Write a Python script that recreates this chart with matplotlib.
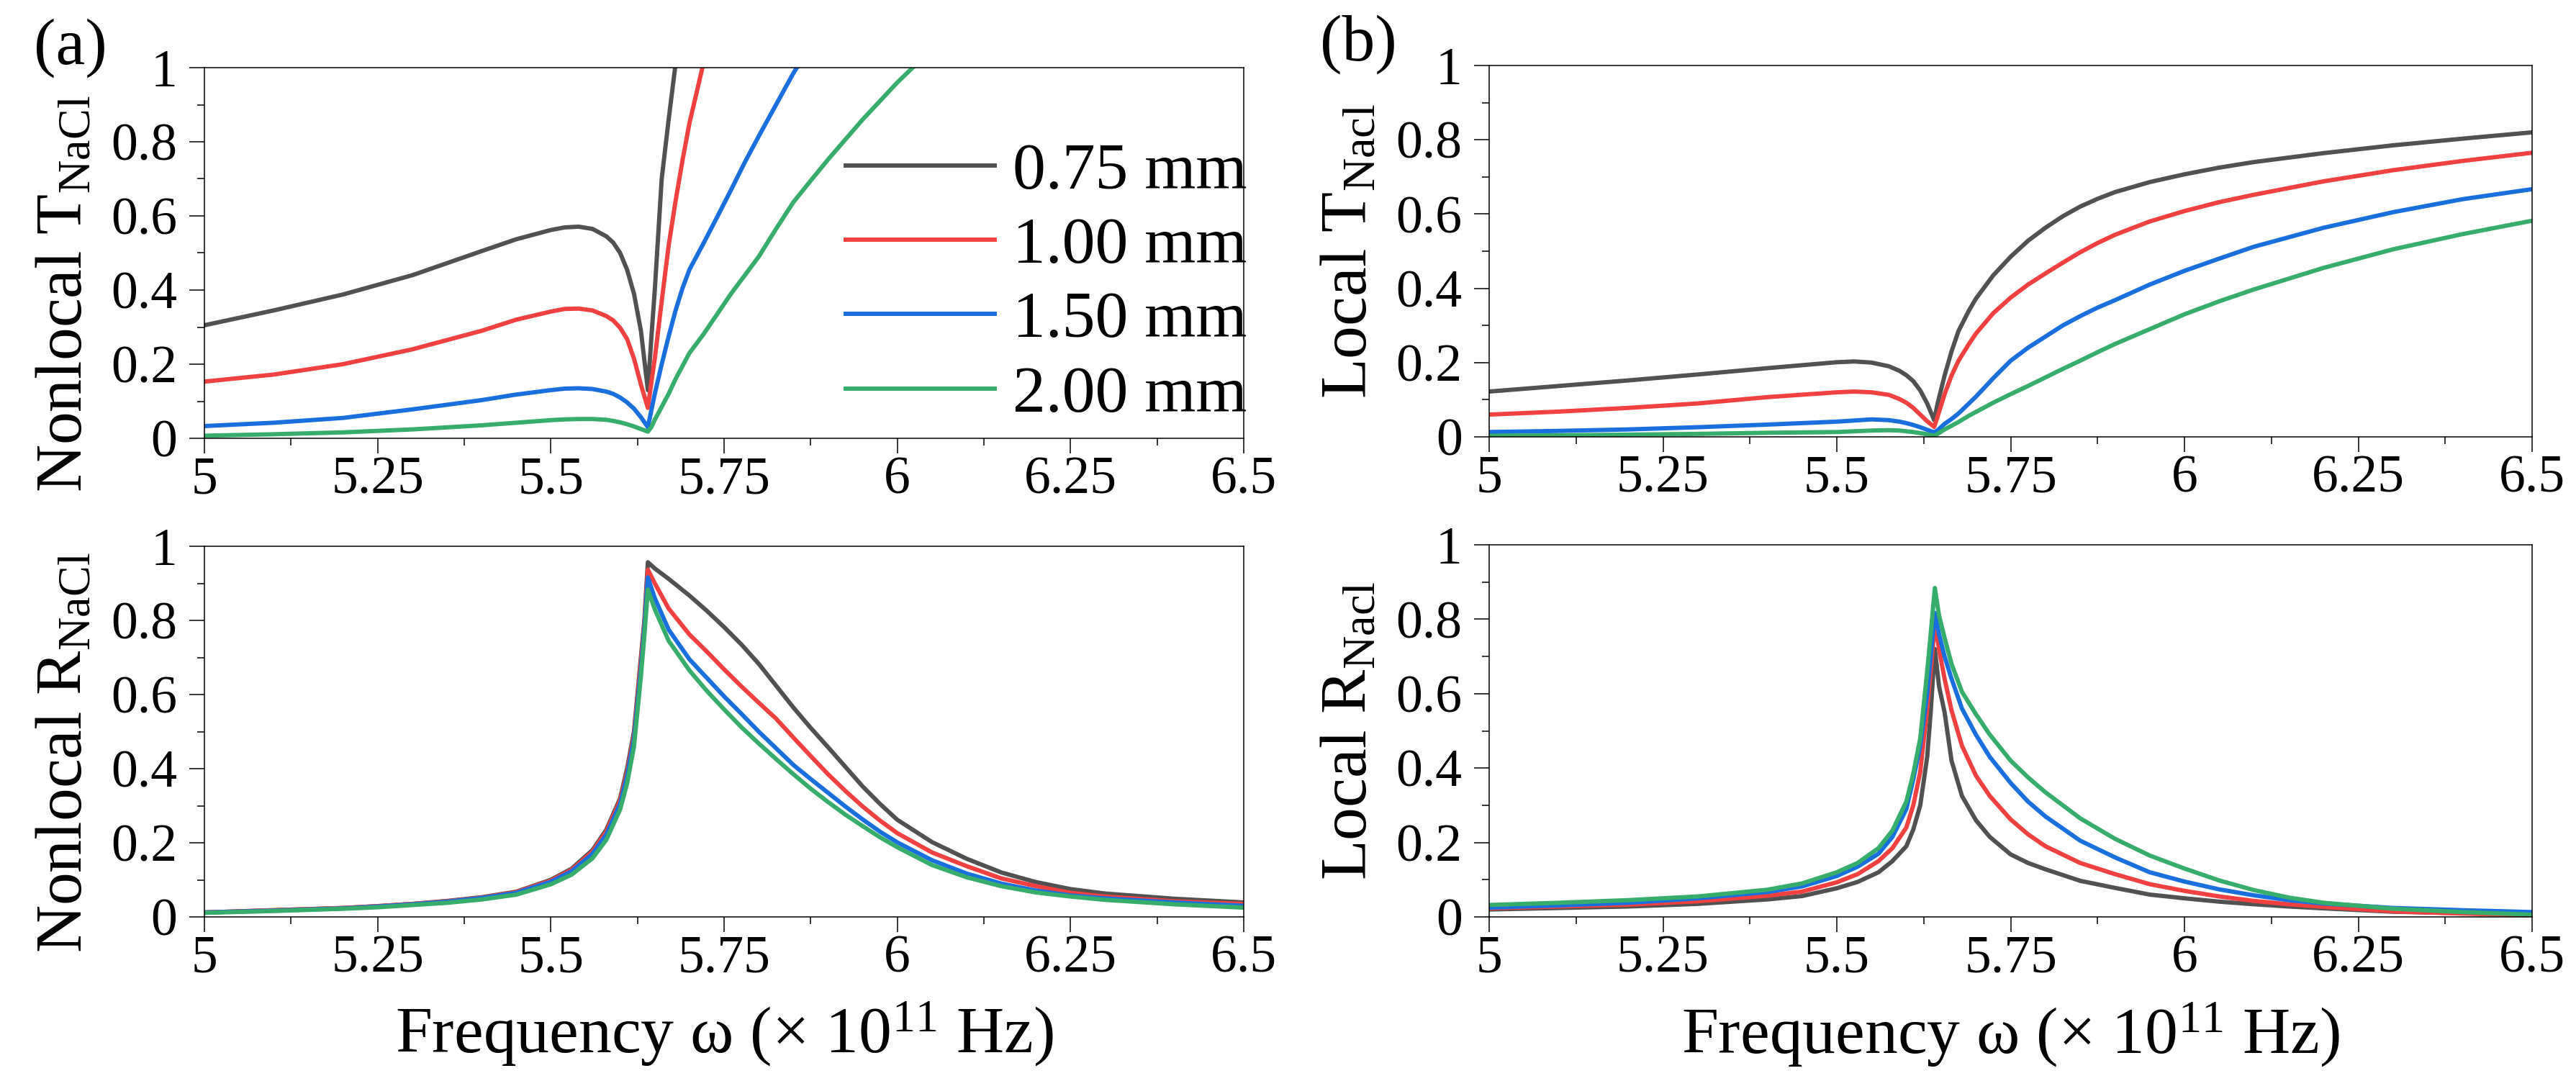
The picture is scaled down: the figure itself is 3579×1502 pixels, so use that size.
import matplotlib
matplotlib.use("Agg")
import matplotlib.pyplot as plt
from matplotlib.ticker import MultipleLocator, FuncFormatter

plt.rcParams['font.family'] = ['Liberation Serif', 'DejaVu Serif']
plt.rcParams['mathtext.fontset'] = 'custom'
plt.rcParams['mathtext.rm'] = 'Liberation Serif'
plt.rcParams['mathtext.it'] = 'Liberation Serif:italic'

# thickness labels and colours (Origin style)
labels = ['0.75 mm', '1.00 mm', '1.50 mm', '2.00 mm']
colors = ['#515151', '#F14040', '#1A6FDF', '#37AD6B']

# ---- (a) top: nonlocal transmission ----
x_nt = [5.0, 5.1, 5.2, 5.3, 5.4, 5.45, 5.5, 5.52, 5.54, 5.56, 5.58, 5.59,
        5.6, 5.61, 5.62, 5.63, 5.64, 5.645, 5.65, 5.66, 5.67, 5.68, 5.69,
        5.70, 5.72, 5.74, 5.76, 5.78, 5.8, 5.825, 5.85, 5.875, 5.9, 5.95,
        6.0, 6.05]
nt_075 = [0.305, 0.345, 0.388, 0.44, 0.505, 0.537, 0.562, 0.569, 0.571, 0.565,
          0.545, 0.528, 0.5, 0.455, 0.39, 0.29, 0.13, 0.27, 0.4, 0.7, 0.86,
          1.01, 1.15, 1.3, 1.5, 1.7, 1.85, 2.0, 2.1, 2.2, 2.3, 2.4, 2.5, 2.6,
          2.7, 2.8]
nt_100 = [0.153, 0.172, 0.2, 0.24, 0.29, 0.32, 0.342, 0.349, 0.35, 0.345,
          0.33, 0.318, 0.298, 0.268, 0.215, 0.145, 0.082, 0.15, 0.215, 0.37,
          0.52, 0.64, 0.75, 0.85, 1.01, 1.15, 1.3, 1.4, 1.5, 1.6, 1.7, 1.8,
          1.9, 2.0, 2.1, 2.2]
nt_150 = [0.033, 0.042, 0.055, 0.078, 0.103, 0.118, 0.13, 0.134, 0.135, 0.133,
          0.126, 0.12, 0.11, 0.097, 0.08, 0.057, 0.03, 0.075, 0.12, 0.2, 0.275,
          0.345, 0.405, 0.455, 0.525, 0.597, 0.67, 0.745, 0.815, 0.9, 0.985,
          1.06, 1.14, 1.28, 1.4, 1.5]
nt_200 = [0.007, 0.011, 0.016, 0.024, 0.035, 0.042, 0.049, 0.051, 0.052, 0.052,
          0.05, 0.047, 0.043, 0.038, 0.032, 0.025, 0.018, 0.03, 0.05, 0.085,
          0.12, 0.16, 0.195, 0.23, 0.28, 0.335, 0.39, 0.44, 0.49, 0.565, 0.637,
          0.695, 0.752, 0.86, 0.96, 1.05]

# ---- (a) bottom: nonlocal reflection ----
x_nr = [5.0, 5.1, 5.2, 5.25, 5.3, 5.35, 5.4, 5.45, 5.5, 5.53, 5.56, 5.58,
        5.6, 5.61, 5.62, 5.63, 5.635, 5.64, 5.65, 5.67, 5.7, 5.725, 5.75,
        5.775, 5.8, 5.825, 5.85, 5.875, 5.9, 5.925, 5.95, 5.975, 6.0, 6.05,
        6.1, 6.15, 6.2, 6.25, 6.3, 6.4, 6.5]
nr_075 = [0.012, 0.018, 0.024, 0.029, 0.035, 0.043, 0.053, 0.068, 0.1, 0.13,
          0.18, 0.235, 0.32, 0.4, 0.5, 0.7, 0.8, 0.957, 0.94, 0.912, 0.867,
          0.826, 0.782, 0.735, 0.683, 0.624, 0.565, 0.51, 0.458, 0.405, 0.352,
          0.305, 0.262, 0.202, 0.157, 0.12, 0.094, 0.075, 0.063, 0.049, 0.039]
nr_100 = [0.012, 0.018, 0.024, 0.029, 0.035, 0.042, 0.052, 0.067, 0.098,
          0.127, 0.176, 0.23, 0.315, 0.39, 0.49, 0.69, 0.79, 0.937, 0.9,
          0.832, 0.762, 0.716, 0.668, 0.622, 0.578, 0.535, 0.484, 0.434,
          0.385, 0.34, 0.298, 0.26, 0.226, 0.174, 0.137, 0.104, 0.083, 0.065,
          0.055, 0.042, 0.035]
nr_150 = [0.012, 0.017, 0.023, 0.028, 0.034, 0.041, 0.051, 0.065, 0.095,
          0.123, 0.17, 0.222, 0.305, 0.38, 0.48, 0.67, 0.78, 0.916, 0.86,
          0.775, 0.695, 0.645, 0.595, 0.548, 0.5, 0.455, 0.41, 0.372, 0.335,
          0.298, 0.263, 0.23, 0.201, 0.153, 0.117, 0.09, 0.071, 0.058, 0.05,
          0.039, 0.03]
nr_200 = [0.011, 0.016, 0.022, 0.026, 0.032, 0.038, 0.047, 0.06, 0.088,
          0.114, 0.158, 0.208, 0.29, 0.36, 0.46, 0.65, 0.76, 0.883, 0.83,
          0.745, 0.665, 0.61, 0.56, 0.512, 0.468, 0.426, 0.385, 0.346, 0.31,
          0.276, 0.245, 0.215, 0.188, 0.14, 0.107, 0.083, 0.066, 0.055, 0.046,
          0.034, 0.025]

# ---- (b) top: local transmission ----
x_lt = [5.0, 5.1, 5.2, 5.3, 5.4, 5.5, 5.525, 5.55, 5.575, 5.59, 5.6, 5.61,
        5.62, 5.63, 5.64, 5.645, 5.655, 5.665, 5.675, 5.69, 5.7, 5.725, 5.75,
        5.775, 5.8, 5.825, 5.85, 5.875, 5.9, 5.95, 6.0, 6.05, 6.1, 6.2, 6.3,
        6.4, 6.5]
lt_075 = [0.122, 0.137, 0.152, 0.168, 0.185, 0.201, 0.203, 0.2, 0.19, 0.178,
          0.166, 0.15, 0.125, 0.09, 0.045, 0.09, 0.165, 0.23, 0.285, 0.34,
          0.372, 0.435, 0.485, 0.528, 0.563, 0.594, 0.62, 0.641, 0.659,
          0.686, 0.707, 0.725, 0.74, 0.764, 0.785, 0.803, 0.82]
lt_100 = [0.06, 0.068, 0.078, 0.09, 0.107, 0.12, 0.122, 0.12, 0.113, 0.102,
          0.092, 0.078, 0.06, 0.042, 0.027, 0.055, 0.115, 0.165, 0.205, 0.25,
          0.278, 0.333, 0.375, 0.41, 0.44, 0.469, 0.497, 0.522, 0.544, 0.58,
          0.608, 0.632, 0.652, 0.688, 0.718, 0.743, 0.765]
lt_150 = [0.013, 0.016, 0.02, 0.026, 0.033, 0.041, 0.044, 0.047, 0.045, 0.041,
          0.037, 0.032, 0.026, 0.019, 0.012, 0.018, 0.035, 0.048, 0.063, 0.09,
          0.108, 0.158, 0.205, 0.24, 0.27, 0.3, 0.325, 0.348, 0.368, 0.41,
          0.447, 0.48, 0.512, 0.563, 0.605, 0.64, 0.667]
lt_200 = [0.003, 0.004, 0.006, 0.008, 0.011, 0.013, 0.015, 0.017, 0.018, 0.017,
          0.015, 0.013, 0.01, 0.007, 0.003, 0.008, 0.02, 0.03, 0.04, 0.057,
          0.067, 0.092, 0.115, 0.137, 0.16, 0.183, 0.205, 0.228, 0.25, 0.29,
          0.33, 0.365, 0.397, 0.455, 0.505, 0.546, 0.582]

# ---- (b) bottom: local reflection ----
x_lr = [5.0, 5.1, 5.2, 5.3, 5.4, 5.45, 5.5, 5.53, 5.56, 5.58, 5.6, 5.61, 5.62,
        5.63, 5.635, 5.641, 5.647, 5.655, 5.665, 5.68, 5.7, 5.72, 5.75, 5.775,
        5.8, 5.85, 5.9, 5.95, 6.0, 6.05, 6.1, 6.15, 6.2, 6.3, 6.4, 6.5]
lr_075 = [0.02, 0.024, 0.028, 0.035, 0.047, 0.056, 0.077, 0.094, 0.12, 0.15,
          0.19, 0.235, 0.3, 0.43, 0.55, 0.72, 0.62, 0.55, 0.42, 0.325, 0.26,
          0.215, 0.168, 0.145, 0.128, 0.097, 0.078, 0.06, 0.05, 0.041, 0.034,
          0.028, 0.023, 0.014, 0.01, 0.006]
lr_100 = [0.023, 0.028, 0.033, 0.042, 0.057, 0.068, 0.093, 0.115, 0.15, 0.185,
          0.24, 0.3, 0.39, 0.56, 0.66, 0.79, 0.72, 0.64, 0.555, 0.46, 0.38,
          0.325, 0.262, 0.222, 0.19, 0.145, 0.115, 0.088, 0.07, 0.055, 0.043,
          0.034, 0.027, 0.015, 0.009, 0.005]
lr_150 = [0.025, 0.031, 0.038, 0.05, 0.067, 0.082, 0.11, 0.135, 0.17, 0.215,
          0.29, 0.37, 0.46, 0.6, 0.7, 0.817, 0.76, 0.7, 0.64, 0.56, 0.49, 0.43,
          0.36, 0.31, 0.27, 0.205, 0.16, 0.12, 0.095, 0.074, 0.058, 0.045,
          0.036, 0.024, 0.018, 0.013]
lr_200 = [0.032, 0.038, 0.045, 0.055, 0.073, 0.09, 0.12, 0.145, 0.185, 0.232,
          0.31, 0.385, 0.48, 0.66, 0.76, 0.884, 0.81, 0.75, 0.68, 0.605, 0.545,
          0.49, 0.42, 0.375, 0.335, 0.265, 0.21, 0.165, 0.13, 0.098, 0.072,
          0.052, 0.038, 0.022, 0.013, 0.006]

panels = [
    (x_nt, [nt_075, nt_100, nt_150, nt_200], r'Nonlocal T$_{\mathrm{NaCl}}$'),
    (x_nr, [nr_075, nr_100, nr_150, nr_200], r'Nonlocal R$_{\mathrm{NaCl}}$'),
    (x_lt, [lt_075, lt_100, lt_150, lt_200], r'Local T$_{\mathrm{Nacl}}$'),
    (x_lr, [lr_075, lr_100, lr_150, lr_200], r'Local R$_{\mathrm{Nacl}}$'),
]

W, H = 3579, 1502
fig = plt.figure(figsize=(W / 100, H / 100), dpi=100)

# axes boxes in pixels: left, top, right, bottom
boxes = [(284, 94, 1728, 609), (284, 759, 1728, 1274),
         (2069, 91, 3518, 607), (2069, 757, 3518, 1274)]
# vertical placement of y labels (axes fraction)
ylab_y = [0.39, 0.443, 0.5, 0.5]

fmt = FuncFormatter(lambda v, p: '{:g}'.format(round(v, 3)))
axes = []
for i, ((xs, series, ylab), (l, t, r, b)) in enumerate(zip(panels, boxes)):
    ax = fig.add_axes([l / W, 1 - b / H, (r - l) / W, (b - t) / H])
    for ys, c, lab in zip(series, colors, labels):
        ax.plot(xs, ys, color=c, lw=4.3, label=lab, solid_joinstyle='round')
    ax.set_xlim(5, 6.5)
    ax.set_ylim(0, 1)
    ax.xaxis.set_major_locator(MultipleLocator(0.25))
    ax.xaxis.set_minor_locator(MultipleLocator(0.125))
    ax.yaxis.set_major_locator(MultipleLocator(0.2))
    ax.yaxis.set_minor_locator(MultipleLocator(0.1))
    ax.xaxis.set_major_formatter(fmt)
    ax.yaxis.set_major_formatter(fmt)
    ax.tick_params(which='both', direction='out', top=False, right=False,
                   width=1.1, labelsize=53)
    ax.tick_params(which='major', length=15)
    ax.tick_params(which='minor', length=7.5)
    ax.tick_params(axis='x', pad=3)
    ax.tick_params(axis='y', pad=12)
    for s in ax.spines.values():
        s.set_linewidth(1.1)
    ax.set_ylabel(ylab, fontsize=66)
    ax.yaxis.set_label_coords(-0.105, ylab_y[i])
    if i in (1, 3):
        ax.set_xlabel(r'Frequency ω (× 10$^{11}$ Hz)', fontsize=66)
        ax.xaxis.set_label_coords(0.5, -0.225)
    axes.append(ax)

axes[0].legend(loc='center left', bbox_to_anchor=(0.617, 0.417),
               frameon=False, fontsize=66, handlelength=2.26,
               handletextpad=0.27, labelspacing=0.22, borderpad=0,
               borderaxespad=0)

fig.text(98 / W, 1 - 67 / H, '(a)', fontsize=66, ha='center', va='center')
fig.text(1887 / W, 1 - 62 / H, '(b)', fontsize=66, ha='center', va='center')

fig.savefig('out.png', dpi=100)
